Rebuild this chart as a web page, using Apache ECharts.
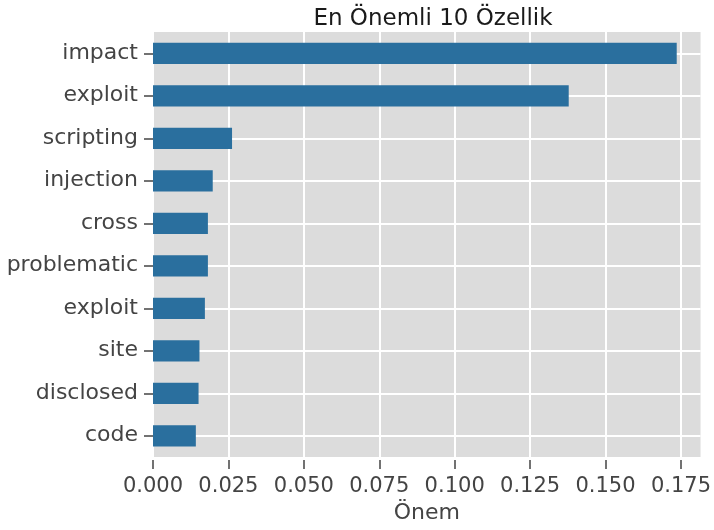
<!DOCTYPE html>
<html>
<head>
<meta charset="utf-8">
<script src="https://cdn.jsdelivr.net/npm/echarts@6/dist/echarts.min.js"></script>
<style>
  html, body { margin: 0; padding: 0; background: #fff; }
  #chart { width: 714px; height: 530px; }
</style>
</head>
<body>
<div id="chart"></div>
<script>
// kelimeler (yukaridan asagiya)
var features = ['impact', 'exploit', 'scripting', 'injection', 'cross',
  'problematic', 'exploit', 'site', 'disclosed', 'code'];
// onem degerleri
var importance = [0.1736, 0.1378, 0.0262, 0.0198, 0.0182,
  0.0182, 0.0172, 0.0154, 0.0151, 0.0142];
var xTicks = [0, 0.025, 0.05, 0.075, 0.1, 0.125, 0.15, 0.175];

var chart = echarts.init(document.getElementById('chart'));
var font = 'DejaVu Sans';
var option = {
  backgroundColor: '#ffffff',
  animation: false,
  title: {
    text: 'En Önemli 10 Özellik',
    left: 428,
    textAlign: 'center',
    top: 3,
    textStyle: { fontFamily: font, fontSize: 23, fontWeight: 'normal', color: '#1a1a1a' }
  },
  grid: {
    left: 153, right: 11, top: 32, bottom: 73,
    show: true, backgroundColor: '#dcdcdc', borderWidth: 0
  },
  xAxis: {
    type: 'value',
    min: 0,
    max: 0.1815,
    interval: 0.025,
    offset: 3,
    name: 'Önem',
    nameLocation: 'middle',
    nameGap: 42,
    nameTextStyle: { fontFamily: font, fontSize: 22, color: '#444444' },
    axisLine: { show: false },
    axisTick: { show: true, length: 9, customValues: xTicks, lineStyle: { color: '#444444', width: 1.5 } },
    axisLabel: {
      customValues: xTicks,
      margin: 16,
      fontFamily: font, fontSize: 21, color: '#444444',
      formatter: function (v) { return v.toFixed(3); }
    },
    splitLine: { show: true, lineStyle: { color: '#ffffff', width: 2 } }
  },
  yAxis: {
    type: 'category',
    inverse: true,
    data: features,
    offset: 3,
    axisLine: { show: false },
    axisTick: { show: true, alignWithLabel: true, length: 9, lineStyle: { color: '#444444', width: 1.5 } },
    axisLabel: { margin: 12, fontFamily: font, fontSize: 22, color: '#444444' },
    splitLine: { show: true, alignWithLabel: true, lineStyle: { color: '#ffffff', width: 2 } }
  },
  series: [{
    type: 'bar',
    data: importance,
    barWidth: '50%',
    itemStyle: { color: '#2a6f9e' }
  }]
};
chart.setOption(option);
</script>
</body>
</html>
